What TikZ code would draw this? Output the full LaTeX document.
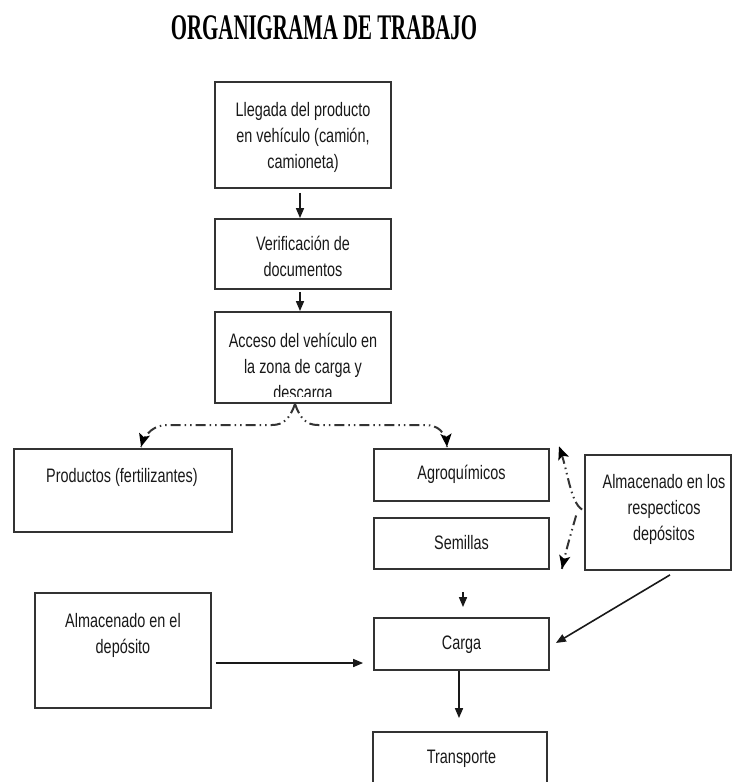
\documentclass[tikz,border=0pt]{standalone}
\usepackage{fontspec}
\setmainfont{Liberation Sans}
\newfontfamily\nar[FakeStretch=0.74]{Liberation Sans}
\newfontfamily\ttl[FakeStretch=0.58]{Liberation Serif}
\usetikzlibrary{arrows.meta,calc,decorations.markings}
\begin{document}
\begin{tikzpicture}[x=1pt,y=-1pt]
\tikzset{
  box/.style={draw=black!80, line width=1.8pt, inner sep=0pt},
  txt/.style={font=\nar\fontsize{19.5}{26}\selectfont, align=center, text=black!90, inner sep=0pt},
  arr/.style={draw=black!90, line width=1.6pt, -{Triangle[length=10pt,width=8pt]}},
  dd/.style={draw=black!80, line width=2pt, dash pattern=on 10pt off 4pt on 1.5pt off 4pt on 1.5pt off 4pt,
    postaction={decorate, decoration={markings, mark=at position -0.3pt with {\pgfsetdash{}{0pt}\arrow{Stealth[length=13pt,width=11pt,inset=3pt,black]}}}}}
}
\clip (0,0) rectangle (733,782);
\fill[white] (0,0) rectangle (733,782);

\node[font=\ttl\bfseries\fontsize{36}{36}\selectfont, anchor=base, text=black] (title) at (324,39) {ORGANIGRAMA DE TRABAJO};

% boxes
\node[box, minimum width=176pt, minimum height=106pt] (b1) at (303,135) {};
\node[box, minimum width=176pt, minimum height=70pt] (b2) at (303,254) {};
\node[box, minimum width=176pt, minimum height=91pt] (b3) at (303,357.5) {};
\node[box, minimum width=218pt, minimum height=83pt] (b4) at (123,490.5) {};
\node[box, minimum width=175pt, minimum height=52pt] (b5) at (461.5,475) {};
\node[box, minimum width=175pt, minimum height=51pt] (b6) at (461.5,543.5) {};
\node[box, minimum width=146pt, minimum height=115pt] (b7) at (658,512.5) {};
\node[box, minimum width=176pt, minimum height=115pt] (b8) at (123,650.5) {};
\node[box, minimum width=175pt, minimum height=52pt] (b9) at (461.5,644) {};
\node[box, minimum width=174pt, minimum height=68pt] (b10) at (460,766) {};

% texts
\node[txt] (t1) at (303,137) {Llegada del producto\\en vehículo (camión,\\camioneta)};
\node[txt] (t2) at (303,256) {Verificación de\\documentos};
\begin{scope}
  \clip (215,312) rectangle (391,396);
  \node[txt] (t3) at (303,368) {Acceso del vehículo en\\la zona de carga y\\descarga};
\end{scope}
\node[txt] (t4) at (122,477) {Productos (fertilizantes)};
\node[txt] (t5) at (461.5,474) {Agroquímicos};
\node[txt] (t6) at (461.5,543) {Semillas};
\node[txt] (t7) at (664,509) {Almacenado en los\\respecticos\\depósitos};
\node[txt] (t8) at (123,635) {Almacenado en el\\depósito};
\node[txt] (t9) at (461.5,645) {Carga};
\node[txt] (t10) at (461.5,759) {Transporte};

% solid arrows
\draw[arr] ([xshift=-3pt,yshift=-4pt]b1.south) -- ([xshift=-3pt]b2.north);
\draw[arr] ([xshift=-3pt,yshift=-2pt]b2.south) -- ([xshift=-3pt]b3.north);
\coordinate (fa) at (463,592);
\draw[arr] (fa) -- ([xshift=1.5pt,yshift=10pt]b9.north);
\draw[arr] ([xshift=12pt,yshift=-4pt]b7.south) -- ([xshift=6pt,yshift=1pt]b9.east);
\draw[arr] ([xshift=4pt,yshift=-12.5pt]b8.east) -- ([xshift=-10pt,yshift=-19pt]b9.west);
\draw[arr] ([xshift=-2.5pt]b9.south) -- ([xshift=-1pt,yshift=13pt]b10.north);

% dash-dot split
\coordinate (sp) at (295,404);
\coordinate (lw1) at (272,425);
\coordinate (lw2) at (168,425);
\coordinate (rw1) at (318,425);
\coordinate (rw2) at (425,425);
\draw[dd] (sp) .. controls (290,418) and (284,425) .. (lw1) -- (lw2)
  .. controls (155,425) and (145,432) .. ([xshift=18pt,yshift=1pt]b4.north);
\draw[dd] (sp) .. controls (300,418) and (306,425) .. (rw1) -- (rw2)
  .. controls (438,425) and (446,432) .. ([xshift=-14.5pt,yshift=1pt]b5.north);

% dash-dot from b7
\draw[dd] ([xshift=-2pt,yshift=3pt]b7.west) .. controls (570,502) and (568,470) .. ([xshift=9pt,yshift=2pt]b5.north east);
\draw[dd] ([xshift=-8pt,yshift=-3pt]b7.west) .. controls (572,530) and (566,550) .. ([xshift=12pt,yshift=1pt]b6.south east);
\end{tikzpicture}
\end{document}
